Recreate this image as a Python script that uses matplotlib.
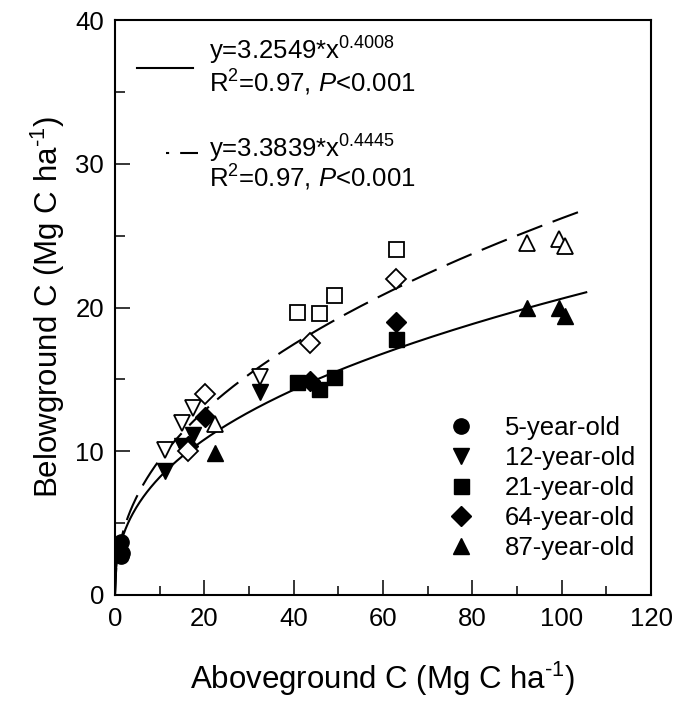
import matplotlib
matplotlib.use('Agg')
import matplotlib.pyplot as plt
import numpy as np
from matplotlib.lines import Line2D

plt.rcParams['font.family'] = ['Liberation Sans', 'DejaVu Sans']
plt.rcParams['mathtext.fontset'] = 'custom'
plt.rcParams['mathtext.rm'] = 'Liberation Sans'
plt.rcParams['mathtext.it'] = 'Liberation Sans:italic'

# stand ages, markers
ages = ['5-year-old', '12-year-old', '21-year-old', '64-year-old', '87-year-old']
markers = ['o', 'v', 's', 'D', '^']

# aboveground C (x) per stand, shared by filled and open symbols
above = [
    [1.3, 1.3, 1.5],
    [11.2, 14.9, 17.5, 32.4],
    [40.8, 45.7, 49.1, 62.9],
    [16.4, 20.2, 43.7, 62.9],
    [22.4, 92.2, 99.4, 100.7],
]
# belowground C, filled symbols
below_filled = [
    [3.7, 2.7, 2.9],
    [8.6, 10.4, 11.1, 14.1],
    [14.8, 14.3, 15.2, 17.8],
    [10.4, 12.4, 14.9, 19.0],
    [9.9, 20.0, 20.0, 19.4],
]
# belowground C, open symbols
below_open = [
    [],
    [10.1, 12.0, 13.0, 15.2],
    [19.7, 19.6, 20.9, 24.1],
    [10.0, 14.0, 17.5, 22.0],
    [11.9, 24.5, 24.8, 24.3],
]

# power fits y = a * x^b
fit_a = [3.2549, 3.3839]
fit_b = [0.4008, 0.4445]
fit_xmax = 105.5

eq_text = [
    ['y=3.2549*$\\mathrm{x}^{0.4008}$', '$\\mathrm{R}^{2}$=0.97, $P$<0.001'],
    ['y=3.3839*$\\mathrm{x}^{0.4445}$', '$\\mathrm{R}^{2}$=0.97, $P$<0.001'],
]

fig = plt.figure(figsize=(6.78, 7.04), dpi=100)
ax = fig.add_axes([115 / 678, 109 / 704, 536 / 678, 575 / 704])

ms = {'o': 11, 'v': 11.5, 's': 10.8, 'D': 10.2, '^': 11.5}

# filled symbols
for xs, ys, m in zip(above, below_filled, markers):
    ax.plot(xs[:len(ys)], ys, linestyle='none', marker=m, ms=ms[m],
            mfc='black', mec='black', mew=1.0, zorder=3)
# open symbols
for xs, ys, m in zip(above, below_open, markers):
    if ys:
        ax.plot(xs[:len(ys)], ys, linestyle='none', marker=m, ms=ms[m],
                mfc='white', mec='black', mew=1.3, zorder=4)

xfit = np.linspace(0, fit_xmax, 400)
dash = (0, (13, 5.3))
ax.plot(xfit, fit_a[0] * xfit ** fit_b[0], color='black', lw=1.5, zorder=2)
ax.plot(xfit, fit_a[1] * xfit ** fit_b[1], color='black', lw=1.5, linestyle=dash, zorder=2)

# equation key
ax.plot([0.041, 0.146], [0.917, 0.917], color='black', lw=1.5, transform=ax.transAxes)
ax.plot([0.095, 0.155], [0.769, 0.769], color='black', lw=1.5,
        linestyle=(11.5, (13, 5.3)), transform=ax.transAxes)
fs = 18.5
ax.text(0.175, 0.932, eq_text[0][0], fontsize=fs, transform=ax.transAxes, va='baseline')
ax.text(0.175, 0.874, eq_text[0][1], fontsize=fs, transform=ax.transAxes, va='baseline')
ax.text(0.175, 0.760, eq_text[1][0], fontsize=fs, transform=ax.transAxes, va='baseline')
ax.text(0.175, 0.710, eq_text[1][1], fontsize=fs, transform=ax.transAxes, va='baseline')

handles = [Line2D([], [], linestyle='none', marker=m, ms=ms[m], mfc='black', mec='black')
           for m in markers]
ax.legend(handles, ages, loc='upper left', bbox_to_anchor=(0.622, 0.312),
          frameon=False, fontsize=fs, borderaxespad=0, borderpad=0,
          handlelength=1.0, handletextpad=1.2, labelspacing=0.24)

ax.set_xlim(0, 120)
ax.set_ylim(0, 40)
ax.set_xticks(np.arange(0, 121, 20))
ax.set_xticks(np.arange(10, 120, 20), minor=True)
ax.set_yticks(np.arange(0, 41, 10))
ax.set_yticks(np.arange(5, 40, 10), minor=True)
ax.tick_params(which='both', direction='in', width=1.1, labelsize=18.5)
ax.tick_params(axis='x', which='major', length=10.5, pad=9)
ax.tick_params(axis='x', which='minor', length=6.5)
ax.tick_params(axis='y', which='major', length=11, pad=8)
ax.tick_params(axis='y', which='minor', length=7.5)
for s in ax.spines.values():
    s.set_linewidth(1.5)

ax.set_xlabel('Aboveground C (Mg C ha$^{\\text{-1}}$)', fontsize=22.5, labelpad=20)
ax.set_ylabel('Belowground C (Mg C ha$^{\\text{-1}}$)', fontsize=22.5, labelpad=6)

fig.savefig('out.png', dpi=100)
